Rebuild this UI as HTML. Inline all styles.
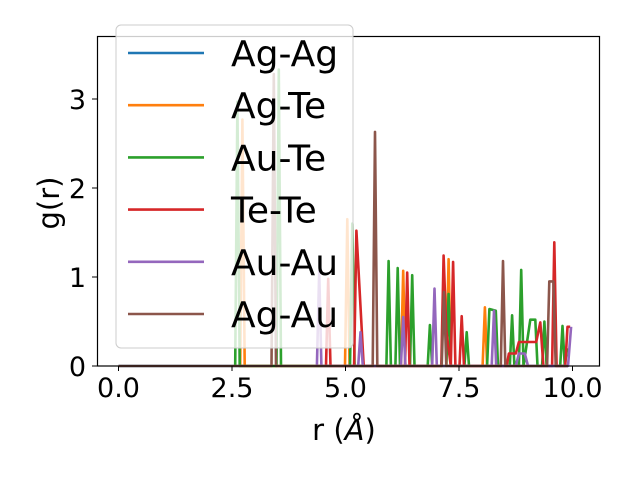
<!DOCTYPE html>
<html><head><meta charset="utf-8"><style>
body{margin:0;background:#fff}
svg text{font-family:"DejaVu Sans","Liberation Sans",sans-serif;fill:#000}
</style></head><body>
<svg id="c" width="640" height="480" xmlns="http://www.w3.org/2000/svg">
<rect width="640" height="480" fill="#fff"/>
<g id="plot"></g>
<rect x="97.5" y="36.5" width="502" height="329.5" fill="none" stroke="#000" stroke-width="1.2"/>
<g id="ticks"></g>
<text x="344" y="440" font-size="29" text-anchor="middle">r (<tspan font-style="italic">Å</tspan>)</text>
<text transform="translate(59,203) rotate(-90)" font-size="29" text-anchor="middle">g(r)</text>
<g id="legend"></g>
</svg>
<script>
const seriesNames=["Ag-Ag","Ag-Te","Au-Te","Te-Te","Au-Au","Ag-Au"];
const colors=["#1f77b4","#ff7f0e","#2ca02c","#d62728","#9467bd","#8c564b"];
const agagR=[0,9.9];
const agagG=[0,0];
const agteR=[2.68,2.73,2.78,4.99,5.04,5.09,6.22,6.27,6.32,7.22,7.27,7.32,8.02,8.07,8.12];
const agteG=[0,2.77,0,0,1.65,0,0,1.07,0,0,1.2,0,0,0.66,0];
const auteR=[2.57,2.62,2.67,3.48,3.53,3.58,5.1,5.15,5.2,5.9,5.95,6.0,6.1,6.15,6.2,6.42,6.47,6.52,6.81,6.86,6.91,7.22,7.27,7.32,7.62,7.67,7.72,8.12,8.17,8.31,8.36,8.62,8.67,8.72,8.82,8.87,8.92,9.07,9.18,9.23,9.33,9.38,9.43,9.73,9.78,9.83,9.88];
const auteG=[0,2.97,0,0,3.33,0,0,1.6,0,0,1.18,0,0,1.1,0,0,1.02,0,0,0.46,0,0,0.81,0,0,0.38,0,0,0.64,0.62,0,0,0.57,0,0,1.08,0,0.52,0.52,0,0,0.5,0,0,0.45,0,0.2];
const teteR=[4.57,4.62,4.67,5.19,5.24,5.4,6.31,6.36,6.41,7.11,7.16,7.22,7.32,7.37,7.42,7.51,7.56,7.61,8.55,8.6,8.75,8.82,9.2,9.29,9.36,9.55,9.6,9.65,9.84,9.89,9.95];
const teteG=[0,0.98,0,0,1.52,0,0,1.05,0,0,1.24,0.4,0,1.17,0,0,0.56,0,0,0.14,0.14,0.27,0.27,0.49,0,0,1.39,0,0,0.44,0.44];
const auauR=[4.37,4.42,4.47,5.28,5.33,5.38,6.22,6.27,6.32,6.91,6.96,7.01,8.22,8.27,8.32,8.75,8.82,8.95,9.02,9.9,9.97];
const auauG=[0,1.07,0,0,0.38,0,0,0.55,0,0,0.87,0,0,0.62,0,0,0.14,0.14,0,0,0.44];
const agauR=[0,3.37,3.42,3.47,5.6,5.65,5.7,7.12,7.17,7.22,8.42,8.47,8.52,9.44,9.49,9.58,9.63,9.9];
const agauG=[0,0,3.28,0,0,2.63,0,0,0.83,0,0,1.18,0,0,0.95,0.95,0,0];
const xTicks=[0,2.5,5,7.5,10];
const xTickLabels=["0.0","2.5","5.0","7.5","10.0"];
const yTicks=[0,1,2,3];
const yTickLabels=["0","1","2","3"];
const NS="http://www.w3.org/2000/svg";
const X=v=>118.5+45.4*v;
const Y=v=>366-89*v;
const plot=document.getElementById('plot');
const data=[[agagR,agagG],[agteR,agteG],[auteR,auteG],[teteR,teteG],[auauR,auauG],[agauR,agauG]];
data.forEach((d,i)=>{
  const p=document.createElementNS(NS,'polyline');
  p.setAttribute('points',d[0].map((r,k)=>X(r).toFixed(1)+','+Y(d[1][k]).toFixed(1)).join(' '));
  p.setAttribute('fill','none');p.setAttribute('stroke',colors[i]);p.setAttribute('stroke-width','2.6');p.setAttribute('stroke-linejoin','round');
  
  
  plot.appendChild(p);
});
const tk=document.getElementById('ticks');
xTicks.forEach((v,i)=>{
  const l=document.createElementNS(NS,'line');
  l.setAttribute('x1',X(v));l.setAttribute('x2',X(v));l.setAttribute('y1',366);l.setAttribute('y2',371);l.setAttribute('stroke','#000');
  
  
  tk.appendChild(l);
  const t=document.createElementNS(NS,'text');
  t.setAttribute('x',X(v));t.setAttribute('y',397);t.setAttribute('font-size','27');t.setAttribute('text-anchor','middle');
  t.textContent=xTickLabels[i];
  
  
  tk.appendChild(t);
});
yTicks.forEach((v,i)=>{
  const l=document.createElementNS(NS,'line');
  l.setAttribute('x1',92);l.setAttribute('x2',97);l.setAttribute('y1',Y(v));l.setAttribute('y2',Y(v));l.setAttribute('stroke','#000');
  
  
  tk.appendChild(l);
  const t=document.createElementNS(NS,'text');
  t.setAttribute('x',86);t.setAttribute('y',Y(v)+10);t.setAttribute('font-size','27');t.setAttribute('text-anchor','end');
  t.textContent=yTickLabels[i];
  
  
  tk.appendChild(t);
});
const lg=document.getElementById('legend');
const box=document.createElementNS(NS,'rect');
box.setAttribute('x',116);box.setAttribute('y',25);box.setAttribute('width',237);box.setAttribute('height',323);box.setAttribute('rx',5);
box.setAttribute('fill','rgba(255,255,255,0.8)');box.setAttribute('stroke','#ccc');


lg.appendChild(box);
seriesNames.forEach((n,i)=>{
  const cy=53+52.2*i;
  const l=document.createElementNS(NS,'line');
  l.setAttribute('x1',128);l.setAttribute('x2',204);l.setAttribute('y1',cy);l.setAttribute('y2',cy);l.setAttribute('stroke',colors[i]);l.setAttribute('stroke-width','2.6');
  
  
  lg.appendChild(l);
  const t=document.createElementNS(NS,'text');
  t.setAttribute('x',231);t.setAttribute('y',cy+13);t.setAttribute('font-size','36');
  t.textContent=n;
  
  
  lg.appendChild(t);
});
</script>
</body></html>
